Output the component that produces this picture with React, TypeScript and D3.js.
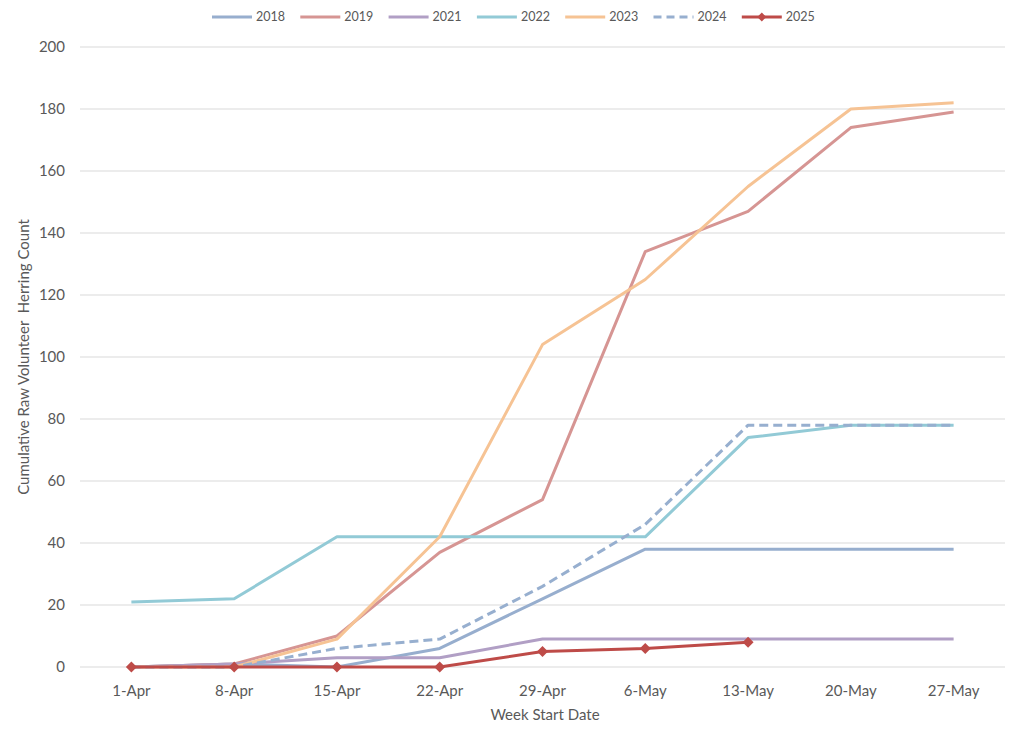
import React from "react";
import * as d3 from "d3";

const weeks = ["1-Apr", "8-Apr", "15-Apr", "22-Apr", "29-Apr", "6-May", "13-May", "20-May", "27-May"];
const yTicks = [0, 20, 40, 60, 80, 100, 120, 140, 160, 180, 200];

const s2018 = [0, 1, 0, 6, 22, 38, 38, 38, 38];
const s2019 = [0, 1, 10, 37, 54, 134, 147, 174, 179];
const s2021 = [0, 1, 3, 3, 9, 9, 9, 9, 9];
const s2022 = [21, 22, 42, 42, 42, 42, 74, 78, 78];
const s2023 = [0, 0, 9, 42, 104, 125, 155, 180, 182];
const s2024 = [0, 0, 6, 9, 26, 46, 78, 78, 78];
const s2025 = [0, 0, 0, 0, 5, 6, 8];

const seriesNames = ["2018", "2019", "2021", "2022", "2023", "2024", "2025"];
const seriesValues = [s2018, s2019, s2021, s2022, s2023, s2024, s2025];
const seriesColors = ["#97aece", "#d69593", "#b19fc5", "#92cad6", "#f6c394", "#97afcf", "#be4b48"];

const W = 1017;
const H = 734;
const margin = { left: 80, right: 12, top: 47, bottom: 67 };
const FONT = "Lato, 'Noto Sans', sans-serif";

export default function App() {
  const x = d3.scalePoint<string>().domain(weeks).range([margin.left, W - margin.right]).padding(0.5);
  const y = d3.scaleLinear().domain([0, 200]).range([H - margin.bottom, margin.top]);
  const line = d3
    .line<number>()
    .x((_, i) => x(weeks[i]) as number)
    .y((d) => y(d));

  const legendX0 = 212;
  const legendStep = 88.3;

  return (
    <svg width={W} height={H} style={{ position: "absolute", left: 0, top: 0, background: "#fff" }} fontFamily={FONT}>
      <rect x={0} y={0} width={W} height={H} fill="#fff" />
      {yTicks.map((t) => (
        <g key={t}>
          <line x1={margin.left} x2={W - margin.right} y1={y(t)} y2={y(t)} stroke="#d9d9d9" strokeWidth={1} />
          <text x={65} y={y(t)} dy="0.35em" textAnchor="end" fontSize={15} fill="#595959">
            {t}
          </text>
        </g>
      ))}
      {weeks.map((w) => (
        <text key={w} x={x(w)} y={696} textAnchor="middle" fontSize={15} fill="#595959">
          {w}
        </text>
      ))}
      <text x={545} y={720} textAnchor="middle" fontSize={15} fill="#595959">
        Week Start Date
      </text>
      <text
        transform={`translate(29,357) rotate(-90)`}
        textAnchor="middle"
        fontSize={15}
        fill="#595959"
        style={{ whiteSpace: "pre" }}
      >
        {"Cumulative Raw Volunteer  Herring Count"}
      </text>

      {seriesValues.map((vals, si) => (
        <path
          key={seriesNames[si]}
          d={line(vals) || ""}
          fill="none"
          stroke={seriesColors[si]}
          strokeWidth={3}
          strokeLinejoin="round"
          strokeDasharray={seriesNames[si] === "2024" ? "9 5" : undefined}
        />
      ))}
      {s2025.map((v, i) => {
        const cx = x(weeks[i]) as number;
        const cy = y(v);
        return (
          <path
            key={i}
            d={`M${cx},${cy - 5.5}L${cx + 5.5},${cy}L${cx},${cy + 5.5}L${cx - 5.5},${cy}Z`}
            fill={seriesColors[6]}
          />
        );
      })}

      {seriesNames.map((n, i) => {
        const lx = legendX0 + i * legendStep;
        const ly = 17;
        return (
          <g key={n}>
            <line
              x1={lx}
              x2={lx + 40}
              y1={ly}
              y2={ly}
              stroke={seriesColors[i]}
              strokeWidth={3}
              strokeDasharray={n === "2024" ? "8 5" : undefined}
            />
            {n === "2025" && (
              <path d={`M${lx + 20},${ly - 4.5}L${lx + 24.5},${ly}L${lx + 20},${ly + 4.5}L${lx + 15.5},${ly}Z`} fill={seriesColors[i]} />
            )}
            <text x={lx + 44} y={ly} dy="0.35em" fontSize={12.5} fill="#595959">
              {n}
            </text>
          </g>
        );
      })}
    </svg>
  );
}
